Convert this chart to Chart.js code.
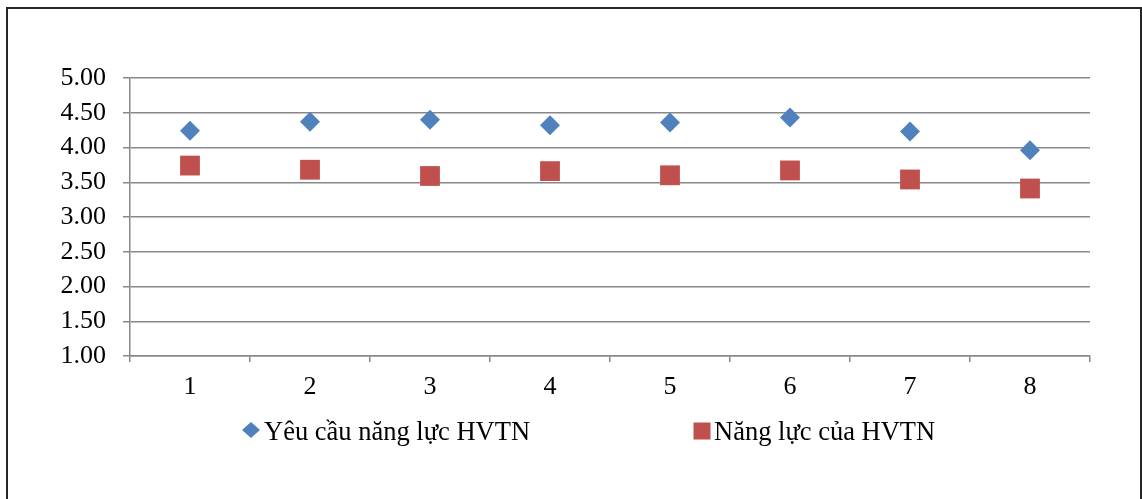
<!DOCTYPE html>
<html>
<head>
<meta charset="utf-8">
<script src="https://cdn.jsdelivr.net/npm/chart.js@4/dist/chart.umd.min.js"></script>
<style>
  html, body { margin: 0; padding: 0; background: #fff; }
  #wrap { position: relative; width: 1142px; height: 499px; overflow: hidden; }
  #frame { position: absolute; left: 6px; top: 7px; width: 1132px; height: 600px;
           border: 2px solid #262626; box-sizing: content-box; pointer-events: none; }
  canvas { position: absolute; left: 0; top: 0; }
</style>
</head>
<body>
<div id="wrap">
  <canvas id="c" width="1142" height="499"></canvas>
  <div id="frame"></div>
</div>
<script>
// Categories (criteria 1..8)
const categories = ['1', '2', '3', '4', '5', '6', '7', '8'];
// Required competence of trainees
const yeuCauNangLuc = [4.24, 4.37, 4.40, 4.32, 4.36, 4.43, 4.23, 3.96];
// Actual competence of trainees
const nangLucHVTN = [3.74, 3.68, 3.59, 3.66, 3.60, 3.67, 3.54, 3.41];
// Series names
const seriesNames = ['Yêu cầu năng lực HVTN', 'Năng lực của HVTN'];
// Y axis tick values
const yTicks = [1.00, 1.50, 2.00, 2.50, 3.00, 3.50, 4.00, 4.50, 5.00];

const BLUE = '#4F81BD';
const RED = '#C0504D';
const GRID = '#888888';
const FONT = 'Liberation Serif';

// Legend drawn under the plot, items spread like the office-style legend
const wideLegend = {
  id: 'wideLegend',
  afterDraw(chart, args, opts) {
    const ctx = chart.ctx;
    ctx.save();
    ctx.font = opts.fontSize + 'px "' + FONT + '"';
    ctx.textBaseline = 'alphabetic';
    ctx.textAlign = 'left';
    chart.data.datasets.forEach((ds, i) => {
      const it = opts.items[i];
      ctx.fillStyle = ds.backgroundColor;
      if (ds.pointStyle === 'rectRot') {
        ctx.beginPath();
        ctx.moveTo(it.mx - it.mw / 2, it.my);
        ctx.lineTo(it.mx, it.my - it.mh / 2);
        ctx.lineTo(it.mx + it.mw / 2, it.my);
        ctx.lineTo(it.mx, it.my + it.mh / 2);
        ctx.closePath();
        ctx.fill();
      } else {
        ctx.fillRect(it.mx - it.mw / 2, it.my - it.mh / 2, it.mw, it.mh);
      }
      ctx.fillStyle = '#000';
      ctx.fillText(ds.label, it.tx, opts.baseline);
    });
    ctx.restore();
  }
};

new Chart(document.getElementById('c'), {
  type: 'line',
  data: {
    labels: categories,
    datasets: [
      {
        label: seriesNames[0],
        data: yeuCauNangLuc,
        showLine: false,
        pointStyle: 'rectRot',
        pointRadius: 10,
        pointHoverRadius: 10,
        backgroundColor: BLUE,
        borderColor: BLUE,
        pointBorderWidth: 0
      },
      {
        label: seriesNames[1],
        data: nangLucHVTN,
        showLine: false,
        pointStyle: 'rect',
        pointRadius: 14,
        pointHoverRadius: 14,
        backgroundColor: RED,
        borderColor: RED,
        pointBorderWidth: 0
      }
    ]
  },
  options: {
    responsive: false,
    animation: false,
    events: [],
    layout: { padding: { left: 0, right: 52, top: 78, bottom: 83 } },
    plugins: {
      legend: { display: false },
      tooltip: { enabled: false },
      wideLegend: {
        fontSize: 26.5,
        baseline: 440,
        items: [
          { mx: 251, my: 430, mw: 18, mh: 16, tx: 264 },
          { mx: 702, my: 431, mw: 17, mh: 17, tx: 714 }
        ]
      }
    },
    scales: {
      x: {
        offset: true,
        grid: {
          display: true,
          offset: true,
          drawOnChartArea: false,
          drawTicks: true,
          tickLength: 6,
          color: GRID,
          lineWidth: 1.5
        },
        border: { display: true, color: GRID, width: 1.5 },
        ticks: { color: '#000', font: { family: FONT, size: 26 }, padding: 10 },
        afterFit(scale) { scale.height = 60; scale.paddingLeft = 0; scale.paddingRight = 0; }
      },
      y: {
        min: 1,
        max: 5,
        afterBuildTicks(scale) { scale.ticks = yTicks.map(v => ({ value: v })); },
        grid: {
          color: GRID,
          lineWidth: 1.5,
          drawTicks: true,
          tickLength: 7
        },
        border: { display: true, color: GRID, width: 1.5 },
        ticks: {
          color: '#000',
          font: { family: FONT, size: 26 },
          padding: 17,
          callback: v => Number(v).toFixed(2)
        },
        afterFit(scale) { scale.width = 130; scale.paddingTop = 0; scale.paddingBottom = 0; }
      }
    }
  },
  plugins: [wideLegend]
});
</script>
</body>
</html>
